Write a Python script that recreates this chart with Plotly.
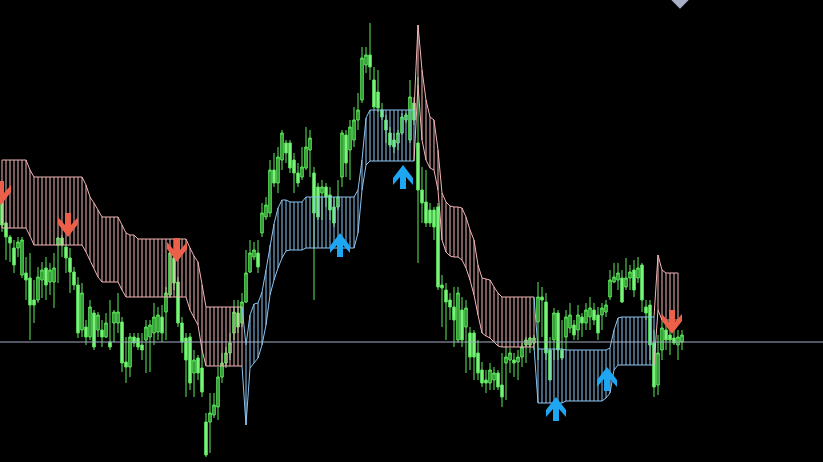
import plotly.graph_objects as go

# ---- candle data (price units) ----
opens = [
    300, 277, 263, 252, 252, 225, 227, 222, 200, 200,
    220, 232, 218, 218, 255, 262, 253, 242, 228, 215,
    170, 173, 163, 187, 170, 170, 163, 158, 177, 177,
    178, 138, 133, 163, 162, 155, 160, 163, 167, 168,
    183, 188, 205, 242, 218, 177, 162, 163, 127, 142,
    132, 78, 78, 85, 93, 123, 137, 147, 167, 187,
    177, 198, 228, 243, 247, 267, 283, 287, 330, 317,
    340, 357, 357, 340, 327, 323, 332, 350, 327, 313,
    307, 313, 305, 293, 293, 323, 365, 350, 360, 380,
    400, 435, 445, 420, 408, 390, 380, 367, 360, 357,
    367, 380, 360, 397, 357, 310, 298, 290, 290, 293,
    215, 210, 200, 193, 160, 190, 173, 167, 167, 147,
    130, 120, 117, 120, 127, 115, 137, 140, 140, 138,
    143, 155, 155, 157, 178, 203, 198, 150, 160, 187,
    150, 163, 172, 175, 170, 183, 177, 183, 190, 185,
    185, 188, 203, 218, 220, 222, 213, 222, 230, 222,
    235, 193, 195, 157, 115, 150, 170, 165, 162, 155,
    158]
closes = [
    275, 263, 257, 235, 258, 260, 220, 195, 195, 223,
    230, 215, 230, 232, 262, 255, 242, 228, 215, 167,
    207, 163, 193, 153, 185, 163, 177, 153, 188, 188,
    137, 133, 163, 157, 153, 150, 173, 175, 183, 185,
    167, 207, 247, 217, 177, 158, 140, 117, 140, 127,
    108, 45, 87, 95, 123, 137, 147, 157, 188, 173,
    198, 227, 247, 250, 233, 287, 295, 330, 317, 343,
    367, 347, 332, 327, 317, 333, 353, 362, 287, 283,
    313, 303, 290, 277, 303, 367, 337, 373, 380, 390,
    442, 445, 433, 393, 392, 383, 370, 355, 353, 367,
    383, 385, 403, 380, 310, 297, 277, 277, 273, 213,
    212, 198, 193, 180, 207, 160, 192, 143, 143, 127,
    117, 117, 130, 127, 113, 103, 143, 147, 137, 143,
    153, 160, 162, 162, 203, 200, 147, 120, 187, 150,
    142, 183, 185, 165, 185, 177, 190, 192, 180, 167,
    192, 195, 220, 223, 227, 198, 222, 228, 210, 232,
    200, 187, 155, 113, 147, 172, 160, 160, 157, 163,
    165]
highs = [
    310, 278, 265, 260, 263, 263, 243, 247, 220, 233,
    238, 243, 237, 247, 263, 265, 255, 252, 233, 223,
    217, 180, 200, 190, 188, 180, 187, 200, 190, 207,
    183, 163, 167, 167, 167, 167, 180, 180, 197, 193,
    195, 213, 250, 247, 223, 183, 167, 167, 150, 145,
    150, 87, 107, 107, 133, 147, 153, 167, 200, 200,
    207, 250, 260, 258, 260, 297, 303, 340, 347, 353,
    370, 360, 360, 347, 337, 353, 373, 370, 333, 317,
    320, 317, 313, 303, 320, 370, 370, 380, 393, 407,
    453, 453, 477, 433, 430, 397, 385, 373, 367, 370,
    387, 387, 420, 403, 423, 333, 330, 297, 293, 297,
    225, 217, 207, 213, 213, 203, 200, 173, 170, 160,
    138, 130, 137, 133, 130, 147, 153, 152, 147, 150,
    157, 163, 163, 165, 218, 213, 207, 163, 192, 190,
    180, 190, 197, 180, 195, 187, 197, 203, 197, 193,
    197, 200, 230, 237, 237, 230, 242, 235, 240, 243,
    237, 200, 200, 170, 165, 180, 180, 175, 170, 170,
    170]
lows = [
    268, 240, 238, 227, 243, 222, 200, 160, 177, 197,
    202, 200, 205, 192, 217, 243, 227, 207, 210, 162,
    163, 155, 160, 150, 163, 153, 162, 150, 158, 167,
    128, 117, 123, 153, 150, 140, 127, 128, 155, 160,
    158, 160, 202, 210, 173, 147, 103, 110, 103, 120,
    103, 43, 47, 82, 80, 117, 132, 140, 160, 167,
    173, 197, 227, 240, 227, 263, 280, 283, 313, 307,
    330, 337, 327, 307, 313, 320, 330, 323, 200, 280,
    280, 293, 280, 273, 290, 313, 323, 320, 353, 370,
    397, 427, 420, 390, 388, 380, 357, 353, 347, 350,
    365, 377, 357, 375, 237, 277, 273, 273, 260, 210,
    173, 160, 180, 153, 157, 153, 127, 130, 120, 120,
    113, 107, 110, 110, 110, 93, 100, 127, 123, 120,
    133, 137, 147, 150, 140, 163, 140, 120, 140, 140,
    140, 150, 167, 160, 160, 163, 170, 170, 175, 160,
    170, 183, 200, 217, 210, 197, 210, 210, 203, 217,
    188, 180, 140, 103, 105, 140, 150, 145, 155, 140,
    150]

# ---- channel (cloud) data ----
band_upper = [
    340, 340, 340, 340, 340, 340, 340, 330, 323, 323,
    323, 323, 323, 323, 323, 323, 323, 323, 323, 323,
    323, 315, 303, 297, 290, 283, 283, 283, 283, 283,
    275, 267, 265, 265, 261, 261, 261, 261, 261, 261,
    261, 261, 261, 261, 261, 261, 261, 252, 244, 238,
    215, 193, 193, 193, 193, 193, 193, 193, 193, 193,
    193, 155, 185, 196, 197, 208, 230, 255, 276, 292,
    300, 300, 298, 298, 298, 298, 303, 303, 303, 303,
    303, 303, 303, 303, 303, 303, 303, 303, 303, 310,
    340, 382, 390, 390, 390, 390, 390, 390, 390, 390,
    390, 390, 390, 390, 475, 430, 400, 383, 380, 350,
    307, 298, 294, 293, 293, 292, 283, 270, 260, 235,
    222, 221, 220, 213, 207, 203, 203, 203, 203, 203,
    203, 203, 203, 203, 151, 151, 151, 151, 151, 151,
    151, 150, 150, 150, 150, 150, 150, 150, 150, 150,
    150, 150, 152, 170, 182, 183, 183, 183, 183, 183,
    183, 183, 183, 183, 245, 230, 227, 227, 227, 227,
    None]
band_lower = [
    272, 272, 272, 272, 272, 272, 272, 264, 255, 255,
    255, 255, 255, 255, 255, 255, 255, 255, 255, 255,
    255, 248, 240, 232, 223, 218, 218, 218, 218, 218,
    210, 203, 203, 203, 203, 203, 203, 203, 203, 203,
    203, 203, 203, 203, 203, 203, 203, 190, 182, 175,
    150, 134, 134, 134, 134, 134, 134, 134, 134, 134,
    134, 75, 132, 137, 142, 155, 175, 205, 220, 232,
    242, 249, 250, 250, 250, 250, 252, 252, 252, 252,
    252, 252, 252, 252, 252, 252, 252, 252, 252, 267,
    310, 335, 339, 339, 339, 339, 339, 339, 339, 339,
    339, 339, 339, 339, 415, 360, 340, 332, 330, 310,
    260, 248, 244, 243, 243, 240, 232, 220, 205, 185,
    167, 164, 162, 158, 154, 153, 153, 153, 153, 153,
    153, 153, 153, 153, 97, 97, 97, 97, 97, 97,
    97, 99, 99, 99, 99, 99, 99, 99, 99, 99,
    99, 102, 107, 130, 135, 135, 135, 135, 135, 135,
    135, 135, 135, 135, 190, 180, 180, 180, 180, 180,
    None]
seg_start = [0, 61, 104, 134, 164]
seg_end = [60, 103, 133, 163, 169]
seg_dir = ['dn', 'up', 'dn', 'up', 'dn']

# ---- signal arrows ----
arrow_dn_x = [-0.25, 16.5, 43.75, 167.5]
arrow_dn_y = [295, 263, 238, 166]
arrow_up_x = [84.5, 100.25, 138.5, 151.25]
arrow_up_y = [267, 335, 103, 133]

level_price = 158
marker_x = [169.5]
marker_y = [499.5]

PINK = '#f2b5b5'
BLUE = '#8cc4f2'
RED_ARROW = '#ec5f49'
BLUE_ARROW = '#1ea6f2'
seg_color = {'dn': PINK, 'up': BLUE}

n = len(closes)
bars = list(range(n))

fig = go.Figure()

# hatch lines
for d in ('dn', 'up'):
    hx, hy = [], []
    for s, e, dd in zip(seg_start, seg_end, seg_dir):
        if dd != d:
            continue
        for i in range(s, e + 1):
            hx += [i, i, None]
            hy += [band_upper[i], band_lower[i], None]
    fig.add_trace(go.Scatter(x=hx, y=hy, mode='lines',
                             line=dict(color=seg_color[d], width=1),
                             hoverinfo='skip', showlegend=False))

# boundary lines
for s, e, dd in zip(seg_start, seg_end, seg_dir):
    s0 = max(s - 1, 0)
    idx = list(range(s0, e + 1))
    for arr in (band_upper, band_lower):
        fig.add_trace(go.Scatter(x=idx, y=[arr[i] for i in idx], mode='lines',
                                 line=dict(color=seg_color[dd], width=1),
                                 hoverinfo='skip', showlegend=False))

# candles
fig.add_trace(go.Candlestick(
    x=bars, open=opens, high=highs, low=lows, close=closes,
    increasing=dict(line=dict(color='#5ceb5c', width=1), fillcolor='#2f8a2f'),
    decreasing=dict(line=dict(color='#5ceb5c', width=1), fillcolor='#86f586'),
    whiskerwidth=0, showlegend=False))

# top marker
fig.add_trace(go.Scatter(x=marker_x, y=marker_y, mode='markers',
                         marker=dict(symbol='diamond', size=13, color='#a9afc6',
                                     line=dict(color='#2a2d3a', width=1)),
                         cliponaxis=False, showlegend=False, hoverinfo='skip'))


def arrow_path(sign):
    pts = [(0, 0), (10, 13), (10, 20), (3, 12), (3, 24), (-3, 24),
           (-3, 12), (-10, 20), (-10, 13)]
    return 'M' + ' L'.join(f'{x},{sign * y}' for x, y in pts) + ' Z'


shapes = [dict(type='line', xref='paper', x0=0, x1=1, yref='y',
               y0=level_price, y1=level_price,
               line=dict(color='#a3adc6', width=1), layer='above')]
for ax_, ay_ in zip(arrow_dn_x, arrow_dn_y):
    shapes.append(dict(type='path', xref='x', yref='y', xsizemode='pixel',
                       ysizemode='pixel', xanchor=ax_, yanchor=ay_,
                       path=arrow_path(1), fillcolor=RED_ARROW,
                       line=dict(width=0), layer='above'))
for ax_, ay_ in zip(arrow_up_x, arrow_up_y):
    shapes.append(dict(type='path', xref='x', yref='y', xsizemode='pixel',
                       ysizemode='pixel', xanchor=ax_, yanchor=ay_,
                       path=arrow_path(-1), fillcolor=BLUE_ARROW,
                       line=dict(width=0), layer='above'))

fig.update_layout(
    width=823, height=462,
    margin=dict(l=0, r=0, t=0, b=0),
    paper_bgcolor='black', plot_bgcolor='black',
    showlegend=False,
    shapes=shapes,
    boxgap=0.1,
    xaxis=dict(range=[-0.5, 205.25], visible=False, rangeslider=dict(visible=False),
               fixedrange=True),
    yaxis=dict(range=[38, 500], visible=False, fixedrange=True),
)

fig.write_html("out.html",
               config={'displayModeBar': False, 'staticPlot': True},
               post_script="document.body.style.margin='0px';"
                           "document.body.style.background='black';")
